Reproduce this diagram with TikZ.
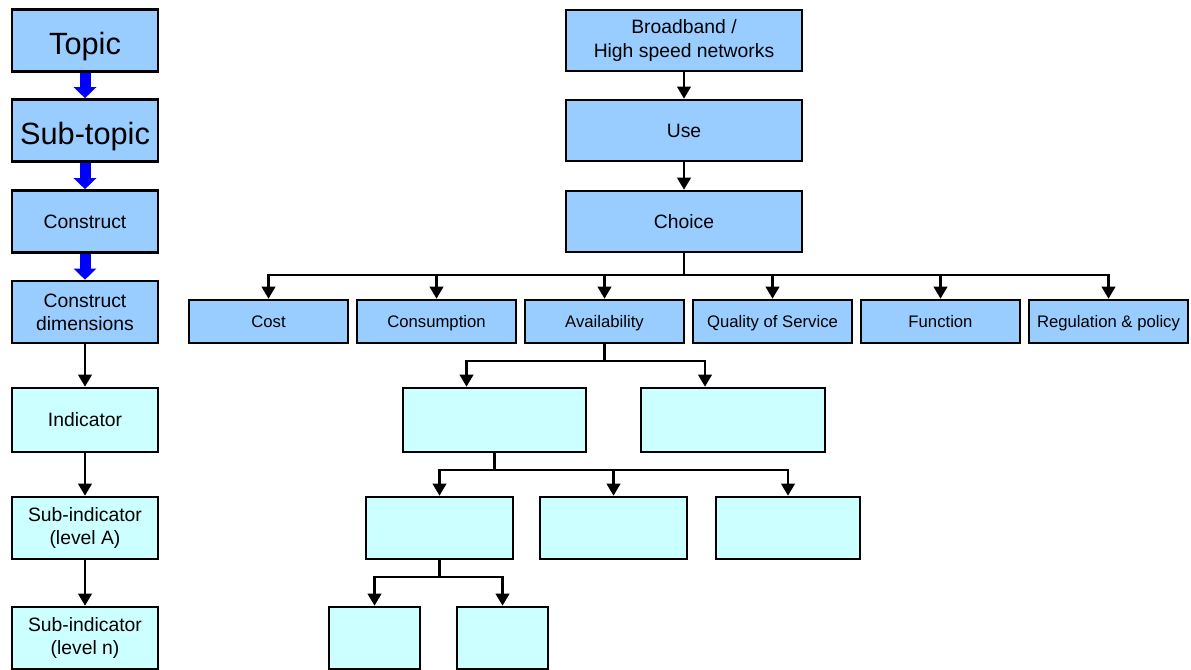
\documentclass[tikz,border=0pt]{standalone}
\usepackage{fontspec}
\setmainfont{Liberation Sans}
\usetikzlibrary{arrows.meta}
\definecolor{boxblue}{RGB}{153,204,255}
\definecolor{boxcyan}{RGB}{204,255,255}
\tikzset{
  box/.style={draw=black,line width=1.5pt,inner sep=1pt,align=center,
    font=\fontsize{11}{13}\selectfont},
  bluebox/.style={box,fill=boxblue},
  cyanbox/.style={box,fill=boxcyan},
  leftbox/.style={minimum width=2.92cm,minimum height=1.24cm},
  bigtext/.style={font=\fontsize{17.5}{20}\selectfont,text height=15.6pt,text depth=0pt},
  onetext/.style={text height=7.9pt,text depth=0pt},
  rowbox/.style={bluebox,minimum width=3.18cm,minimum height=0.86cm,
    font=\fontsize{9.5}{11}\selectfont,text height=6.9pt,text depth=0pt},
  conn/.style={line width=1.3pt,-{Triangle[length=0.24cm,width=0.27cm]}},
  bigarrow/.style={draw=blue,line width=0.22cm,-{Triangle[length=0.22cm,width=0.44cm]}},
}

\begin{document}
\begin{tikzpicture}
     \useasboundingbox (0,0) rectangle (23.82,-13.38);
     % left column
     \node[bluebox,leftbox,bigtext] (topic) at (1.70,-0.81) {Topic};
     \node[bluebox,leftbox,bigtext] (subtopic) at (1.70,-2.61) {Sub-topic};
     \node[bluebox,leftbox,onetext] (construct) at (1.70,-4.43) {Construct};
     \node[bluebox,leftbox] (dims) at (1.70,-6.24) {Construct\\dimensions};
     \node[cyanbox,leftbox,onetext,minimum height=1.28cm] (indicator) at (1.70,-8.40) {Indicator};
     \node[cyanbox,leftbox] (subA) at (1.70,-10.56) {Sub-indicator\\(level A)};
     \node[cyanbox,leftbox] (subN) at (1.70,-12.76) {Sub-indicator\\(level n)};
     \draw[bigarrow] (topic) -- (subtopic);
     \draw[bigarrow] (subtopic) -- (construct);
     \draw[bigarrow] (construct) -- (dims);
     \draw[conn] (dims) -- (indicator);
     \draw[conn] (indicator) -- (subA);
     \draw[conn] (subA) -- (subN);
     % example tree
     \node[bluebox,minimum width=4.72cm,minimum height=1.22cm,
       font=\fontsize{11}{14}\selectfont] (broadband) at (13.68,-0.81) {Broadband /\\High speed networks};
     \node[bluebox,onetext,minimum width=4.72cm,minimum height=1.22cm] (use) at (13.68,-2.61) {Use};
     \node[bluebox,onetext,minimum width=4.72cm,minimum height=1.22cm] (choice) at (13.68,-4.43) {Choice};
     \draw[conn] (broadband) -- (use);
     \draw[conn] (use) -- (choice);
     \node[rowbox] (cost) at (5.37,-6.43) {Cost};
     \node[rowbox] (consumption) at (8.73,-6.43) {Consumption};
     \node[rowbox] (availability) at (12.09,-6.43) {Availability};
     \node[rowbox] (qos) at (15.45,-6.43) {Quality of Service};
     \node[rowbox] (function) at (18.81,-6.43) {Function};
     \node[rowbox] (regulation) at (22.17,-6.43) {Regulation \& policy};
     \foreach \n in {cost,consumption,availability,qos,function,regulation}
       \draw[conn] (choice.south) -- ++(0,-0.44) -| (\n.north);
     \node[cyanbox,minimum width=3.66cm,minimum height=1.28cm] (avA) at (9.89,-8.40) {};
     \node[cyanbox,minimum width=3.68cm,minimum height=1.28cm] (avB) at (14.66,-8.40) {};
     \foreach \n in {avA,avB}
       \draw[conn] (availability.south) -- ++(0,-0.34) -| ([xshift=-0.56cm]\n.north);
     \node[cyanbox,minimum width=2.94cm,minimum height=1.24cm] (avAa) at (8.79,-10.56) {};
     \node[cyanbox,minimum width=2.94cm,minimum height=1.24cm] (avAb) at (12.27,-10.56) {};
     \node[cyanbox,minimum width=2.88cm,minimum height=1.24cm] (avAc) at (15.76,-10.56) {};
     \foreach \n in {avAa,avAb,avAc}
       \draw[conn] (avA.south) -- ++(0,-0.34) -| (\n.north);
     \node[cyanbox,minimum width=1.82cm,minimum height=1.24cm] (avAaa) at (7.49,-12.76) {};
     \node[cyanbox,minimum width=1.82cm,minimum height=1.24cm] (avAab) at (10.05,-12.76) {};
     \foreach \n in {avAaa,avAab}
       \draw[conn] (avAa.south) -- ++(0,-0.34) -| (\n.north);
    \end{tikzpicture}
\end{document}
